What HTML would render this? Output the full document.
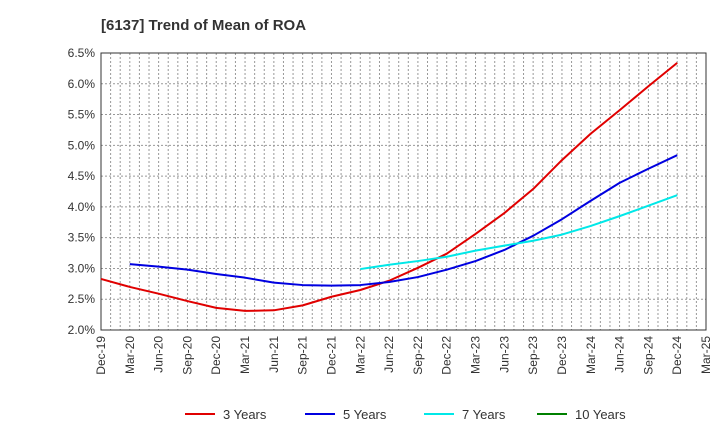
<!DOCTYPE html>
<html><head><meta charset="utf-8"><style>
body{margin:0;background:#fff;font-family:"Liberation Sans",sans-serif}
</style></head><body>
<svg id="c" width="720" height="440" xmlns="http://www.w3.org/2000/svg">
<text x="101" y="30" font-size="15" font-weight="bold" fill="#333">[6137]  Trend of Mean of ROA</text>
<g id="grid"></g><g id="axes"></g><g id="series"></g><g id="legend"></g>
</svg>
<script>
const xLabels=["Dec-19","Mar-20","Jun-20","Sep-20","Dec-20","Mar-21","Jun-21","Sep-21","Dec-21","Mar-22","Jun-22","Sep-22","Dec-22","Mar-23","Jun-23","Sep-23","Dec-23","Mar-24","Jun-24","Sep-24","Dec-24","Mar-25"];
const yTicks=[2.0,2.5,3.0,3.5,4.0,4.5,5.0,5.5,6.0,6.5];
const s3=[2.83,2.70,2.59,2.47,2.36,2.31,2.32,2.40,2.54,2.65,2.80,3.01,3.24,3.56,3.90,4.29,4.76,5.19,5.57,5.96,6.34];
const s5=[3.07,3.03,2.98,2.91,2.85,2.77,2.73,2.72,2.73,2.78,2.86,2.98,3.12,3.30,3.53,3.80,4.10,4.39,4.62,4.84];
const s7=[2.99,3.06,3.12,3.19,3.29,3.37,3.45,3.55,3.69,3.85,4.02,4.19];
const s10=[];
const start3=0,start5=1,start7=9,start10=0;
const L=101,R=706,T=53,B=330,NS="http://www.w3.org/2000/svg";
const X=i=>L+(R-L)*i/(xLabels.length-1);
const Y=v=>B-(v-2.0)/(6.5-2.0)*(B-T);
function mk(tag,a,p){const e=document.createElementNS(NS,tag);for(const k in a)e.setAttribute(k,a[k]);p.appendChild(e);return e;}
const g=document.getElementById('grid'),ax=document.getElementById('axes'),se=document.getElementById('series'),lg=document.getElementById('legend');
for(let m=1;m<(xLabels.length-1)*3;m++){const x=L+(R-L)*m/((xLabels.length-1)*3);
const l=mk('line',{x1:x,x2:x,y1:T,y2:B,stroke:'#999','stroke-dasharray':'2,2'},g);

}
yTicks.forEach(v=>{const y=Y(v);
const l=mk('line',{x1:L,x2:R,y1:y,y2:y,stroke:'#999','stroke-dasharray':'2,2'},g);


const t=mk('text',{x:L-6,y:y+4,'text-anchor':'end','font-size':12,fill:'#333'},ax);t.textContent=v.toFixed(1)+'%';

});
const fr=mk('rect',{x:L,y:T,width:R-L,height:B-T,fill:'none',stroke:'#333'},ax);


xLabels.forEach((lb,i)=>{const x=X(i);
const t=mk('text',{transform:`translate(${x+4},${B+6}) rotate(-90)`,'text-anchor':'end','font-size':12,fill:'#333'},ax);t.textContent=lb;

});
function line(d,st,col,name){if(!d.length)return;
const p=mk('polyline',{points:d.map((v,i)=>X(st+i)+','+Y(v)).join(' '),fill:'none',stroke:col,'stroke-width':2,'stroke-linejoin':'round'},se);

}
line(s3,start3,'#e00000','line-3-years');line(s5,start5,'#0000e0','line-5-years');line(s7,start7,'#00e8e8','line-7-years');line(s10,start10,'#008000','line-10-years');
[['3 Years','#e00000',185],['5 Years','#0000e0',305],['7 Years','#00e8e8',424],['10 Years','#008000',537]].forEach(([n,c,x])=>{
const e=mk('g',{},lg);


mk('line',{x1:x,x2:x+30,y1:414,y2:414,stroke:c,'stroke-width':2},e);
const t=mk('text',{x:x+38,y:419,'font-size':13,fill:'#333'},e);t.textContent=n;});
</script>
</body></html>
